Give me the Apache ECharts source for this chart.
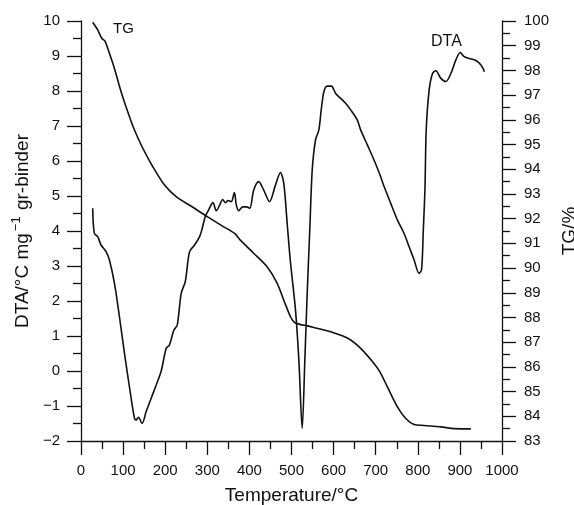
<!DOCTYPE html>
<html>
<head>
<meta charset="utf-8">
<script src="https://cdn.jsdelivr.net/npm/echarts@6/dist/echarts.min.js"></script>
<style>
html,body{margin:0;padding:0;background:#fff;}
#chart{width:574px;height:505px;}
</style>
</head>
<body>
<div id="chart"></div>
<script>
// Temperature (°C) and DTA values (°C mg^-1 gr-binder)
const dtaTemp = [27.8,31.7,39.7,47.6,59.5,67.5,79.4,91.3,103.2,115,127,131,136.5,145,154.8,166.7,178.6,190.5,202.4,210,220.6,228.6,238,247.6,257.9,269.8,281.7,287,295,303,313.5,321.4,329.4,336.5,342.9,349.2,357,364.3,369,374.6,384,392.9,400.8,410.3,422,434,447.6,461.9,473.8,481.7,489.7,497.6,509.5,517.5,525.4,531.7,537.3,543.7,549.2,557,565,570.6,576.9,585,594.5,604.8,616.7,628.6,640.5,656.3,664.3,680.2,696,710.3,720,735.7,751.6,767.4,779.4,791.3,803,809,813,817,820,827,835,842.9,854.8,866.7,878.6,890.5,900.8,910,922,938,950,958];
const dtaValue = [4.65,3.93,3.84,3.6,3.41,3.17,2.51,1.55,0.51,-0.45,-1.35,-1.4,-1.32,-1.5,-1.16,-0.78,-0.4,0.0,0.65,0.74,1.17,1.31,2.22,2.55,3.41,3.6,3.84,4.03,4.41,4.6,4.81,4.58,4.74,4.9,4.81,4.87,4.84,5.1,4.74,4.58,4.69,4.69,4.65,5.17,5.41,5.17,4.84,5.31,5.67,5.36,4.22,3.1,1.74,0.31,-1.64,0.31,2.22,4.12,5.74,6.6,6.89,7.46,7.98,8.14,8.14,7.93,7.79,7.65,7.46,7.17,6.89,6.46,6.03,5.6,5.27,4.79,4.31,3.93,3.55,3.17,2.79,2.9,4.0,5.2,6.89,8.03,8.5,8.58,8.36,8.27,8.5,8.89,9.1,8.98,8.93,8.87,8.74,8.55];
// Temperature (°C) and TG values (%)
const tgTemp = [27.8,39.7,49.2,57,67.5,79.4,95.2,111,127,146.8,170.6,198.4,226,262,300,336,365,378.6,410,442,466,481.7,497.6,507,520,537.3,561,593,635,664.3,696,710,727.8,751.6,771.4,791,815,854.8,886.5,926];
const tgValue = [99.95,99.64,99.3,99.19,98.69,98.08,97.14,96.33,95.59,94.85,94.1,93.36,92.89,92.5,92.08,91.7,91.4,91.13,90.6,90.05,89.38,88.7,88.03,87.8,87.72,87.66,87.56,87.42,87.15,86.75,86.14,85.8,85.19,84.38,83.91,83.67,83.63,83.57,83.5,83.49];
// Axis settings
const xTicks = {min: 0, max: 1000, interval: 100};
const dtaTicks = {min: -2, max: 10, interval: 1};
const tgTicks = {min: 83, max: 100, interval: 1};

const FONT = '"Liberation Sans", Arial, Helvetica, sans-serif';
const INK = '#111';
const minus = v => String(v).replace('-', '\u2212');

const chart = echarts.init(document.getElementById('chart'), null, {renderer: 'canvas'});
const axisCommon = {
  axisLine: {show: true, onZero: false, lineStyle: {color: INK, width: 1.3}},
  axisTick: {show: true, inside: false, length: 14, lineStyle: {color: INK, width: 1.3}},
  minorTick: {show: true, splitNumber: 2, length: 8, lineStyle: {color: INK, width: 1.3}},
  splitLine: {show: false},
  minorSplitLine: {show: false},
  axisLabel: {color: INK, fontSize: 15, fontFamily: FONT, formatter: minus},
  nameTextStyle: {color: INK, fontSize: 19, fontFamily: FONT}
};

chart.setOption({
  backgroundColor: '#fff',
  animation: false,
  grid: {left: 81, right: 72, top: 21, bottom: 64, containLabel: false, outerBoundsMode: 'none'},
  xAxis: Object.assign({}, axisCommon, {
    type: 'value', min: xTicks.min, max: xTicks.max, interval: xTicks.interval,
    name: 'Temperature/°C', nameLocation: 'middle', nameGap: 45,
    axisLabel: Object.assign({}, axisCommon.axisLabel, {margin: 22})
  }),
  yAxis: [
    Object.assign({}, axisCommon, {
      type: 'value', position: 'left', min: dtaTicks.min, max: dtaTicks.max, interval: dtaTicks.interval,
      name: '{n|DTA/°C mg}{s|\u22121}{n| gr-binder}', nameLocation: 'middle', nameGap: 49, nameRotate: 90,
      nameTextStyle: {color: INK, fontSize: 19, fontFamily: FONT,
        rich: {n: {fontSize: 19, fontFamily: FONT, color: INK, verticalAlign: 'bottom', lineHeight: 22},
               s: {fontSize: 13, fontFamily: FONT, color: INK, verticalAlign: 'top', lineHeight: 22, padding: [0,1,8,2]}}},
      axisLabel: Object.assign({}, axisCommon.axisLabel, {margin: 21})
    }),
    Object.assign({}, axisCommon, {
      type: 'value', position: 'right', min: tgTicks.min, max: tgTicks.max, interval: tgTicks.interval,
      name: 'TG/%', nameLocation: 'middle', nameGap: 53, nameRotate: 90,
      axisLabel: Object.assign({}, axisCommon.axisLabel, {margin: 22})
    })
  ],
  series: [
    {type: 'line', name: 'DTA', yAxisIndex: 0, showSymbol: false, symbol: 'none', smooth: 0.3,
     lineStyle: {color: INK, width: 1.6}, data: dtaTemp.map((t, i) => [t, dtaValue[i]])},
    {type: 'line', name: 'TG', yAxisIndex: 1, showSymbol: false, symbol: 'none', smooth: 0.3,
     lineStyle: {color: INK, width: 1.6}, data: tgTemp.map((t, i) => [t, tgValue[i]])}
  ],
  graphic: [
    {type: 'text', left: 113, top: 21, style: {text: 'TG', fill: INK, font: '15px ' + FONT}},
    {type: 'text', left: 431, top: 34, style: {text: 'DTA', fill: INK, font: '16px ' + FONT}}
  ]
});
</script>
</body>
</html>
